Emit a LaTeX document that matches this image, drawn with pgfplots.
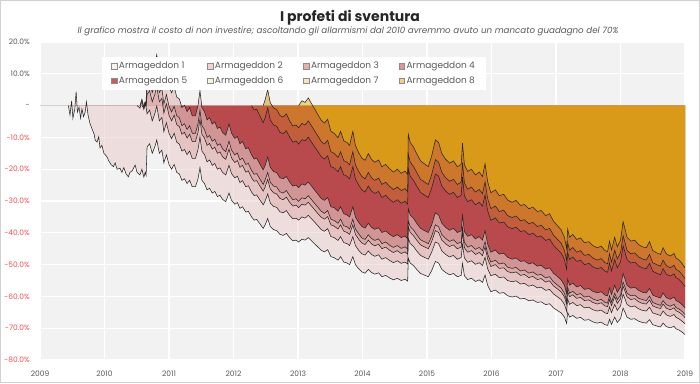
\documentclass[border=0pt]{standalone}
\usepackage{fontspec}
\setmainfont{Poppins}
\usepackage{pgfplots}
\usepackage{pgfplotstable}
\pgfplotsset{compat=1.18}
\definecolor{bggray}{HTML}{F2F2F2}
\definecolor{txtgray}{HTML}{595959}
\definecolor{negred}{HTML}{F05050}
\definecolor{ca}{RGB}{234,202,202}
\definecolor{cb}{RGB}{222,170,170}
\definecolor{cc}{RGB}{210,144,144}
\definecolor{cd}{RGB}{200,130,130}
\definecolor{ce}{RGB}{160,0,6}
\definecolor{cf}{RGB}{205,115,42}
\definecolor{cg}{RGB}{215,145,30}
\definecolor{ch}{RGB}{229,190,5}
\definecolor{cup}{RGB}{222,165,165}
\definecolor{la}{RGB}{247,242,242}
\definecolor{lb}{RGB}{240,212,212}
\definecolor{lc}{RGB}{228,175,175}
\definecolor{ld}{RGB}{220,150,150}
\definecolor{le}{RGB}{200,95,95}
\definecolor{lf}{RGB}{248,242,222}
\definecolor{lg}{RGB}{245,228,190}
\definecolor{lh}{RGB}{244,205,140}

\pgfplotstableread{
t s1 s2 s3 s4 s5 s6 s7 s8
2009.44 0 nan nan nan nan nan nan nan
2009.465 -3.0 nan nan nan nan nan nan nan
2009.49 1.5 nan nan nan nan nan nan nan
2009.51 -4.0 nan nan nan nan nan nan nan
2009.54 -1.0 nan nan nan nan nan nan nan
2009.56 4.4 nan nan nan nan nan nan nan
2009.58 -2.0 nan nan nan nan nan nan nan
2009.605 -0.5 nan nan nan nan nan nan nan
2009.63 -4.0 nan nan nan nan nan nan nan
2009.65 -1.0 nan nan nan nan nan nan nan
2009.675 -3.5 nan nan nan nan nan nan nan
2009.70 -2.0 nan nan nan nan nan nan nan
2009.72 1.2 nan nan nan nan nan nan nan
2009.745 -3.0 nan nan nan nan nan nan nan
2009.775 -5.6 nan nan nan nan nan nan nan
2009.81 -7.5 nan nan nan nan nan nan nan
2009.84 -9.0 nan nan nan nan nan nan nan
2009.855 -10.8 nan nan nan nan nan nan nan
2009.885 -11.5 nan nan nan nan nan nan nan
2009.91 -9.8 nan nan nan nan nan nan nan
2009.93 -13.3 nan nan nan nan nan nan nan
2009.96 -12.5 nan nan nan nan nan nan nan
2009.99 -15.0 nan nan nan nan nan nan nan
2010.035 -16.0 nan nan nan nan nan nan nan
2010.07 -17.5 nan nan nan nan nan nan nan
2010.10 -18.5 nan nan nan nan nan nan nan
2010.14 -19.2 nan nan nan nan nan nan nan
2010.165 -18.0 nan nan nan nan nan nan nan
2010.195 -20.0 nan nan nan nan nan nan nan
2010.24 -19.7 nan nan nan nan nan nan nan
2010.27 -21.0 nan nan nan nan nan nan nan
2010.30 -19.5 nan nan nan nan nan nan nan
2010.335 -21.5 nan nan nan nan nan nan nan
2010.37 -22.4 nan nan nan nan nan nan nan
2010.395 -21.0 nan nan nan nan nan nan nan
2010.43 -20.5 nan nan nan nan nan nan nan
2010.475 -18.7 nan nan nan nan nan nan nan
2010.505 -21.0 0 nan nan nan nan nan nan
2010.55 -21.8 -0.8 0 nan nan nan nan nan
2010.58 -20.0 1.5 2.0 0 nan nan nan nan
2010.61 -22.5 -1.2 -0.5 -0.8 0 nan nan nan
2010.63 -21.0 0.5 1.2 0.8 1.0 nan nan nan
2010.645 -22.0 -0.5 0.3 0.0 0.5 nan nan nan
2010.66 -13.0 -2.6 3.5 6.6 13.1 nan nan nan
2010.70 -12.0 -1.4 4.7 7.8 14.4 nan nan nan
2010.74 -15.0 -4.8 1.2 4.1 10.5 nan nan nan
2010.78 -13.0 -2.6 3.5 6.6 13.1 nan nan nan
2010.81 -10.8 -0.1 6.1 9.3 16.0 nan nan nan
2010.85 -15.0 -4.8 1.2 4.1 10.5 nan nan nan
2010.89 -14.0 -3.7 2.3 5.4 11.8 nan nan nan
2010.92 -18.0 -8.2 -2.4 0.5 6.6 nan nan nan
2010.96 -15.5 -5.4 0.6 3.5 9.9 nan nan nan
2011.00 -18.5 -8.7 -3.0 -0.2 6.0 nan nan nan
2011.04 -20.0 -10.4 -4.8 -2.0 4.0 nan nan nan
2011.08 -18.5 -8.7 -3.0 -0.2 6.0 nan nan nan
2011.12 -21.0 -11.5 -6.0 -3.2 2.7 nan nan nan
2011.16 -21.5 -12.1 -6.6 -3.8 2.1 nan nan nan
2011.20 -23.5 -14.3 -9.0 -6.3 -0.6 nan nan nan
2011.24 -23.0 -13.8 -8.4 -5.7 0.1 nan nan nan
2011.28 -24.5 -15.4 -10.2 -7.5 -1.9 nan nan nan
2011.32 -23.5 -14.3 -9.0 -6.3 -0.6 nan nan nan
2011.36 -25.5 -16.6 -11.3 -8.7 -3.2 nan nan nan
2011.41 -25.5 -16.6 -11.3 -8.7 -3.2 nan nan nan
2011.45 -23.0 -13.8 -8.4 -5.7 0.1 nan nan nan
2011.48 -19.5 -9.8 -4.2 -1.4 4.7 nan nan nan
2011.51 -23.5 -14.3 -9.0 -6.3 -0.6 nan nan nan
2011.55 -24.5 -15.4 -10.2 -7.5 -1.9 nan nan nan
2011.59 -26.5 -17.7 -12.5 -10.0 -4.5 nan nan nan
2011.63 -26.0 -17.1 -11.9 -9.4 -3.8 nan nan nan
2011.67 -27.5 -18.8 -13.7 -11.2 -5.8 nan nan nan
2011.71 -27.0 -18.2 -13.1 -10.6 -5.1 nan nan nan
2011.75 -28.6 -20.0 -15.0 -12.5 -7.2 nan nan nan
2011.79 -28.2 -19.6 -14.6 -12.0 -6.7 nan nan nan
2011.83 -29.5 -21.0 -16.1 -13.6 -8.4 nan nan nan
2011.88 -30.2 -21.8 -16.9 -14.5 -9.3 nan nan nan
2011.93 -27.5 -18.8 -13.7 -11.2 -5.8 nan nan nan
2011.97 -29.8 -21.4 -16.5 -14.0 -8.7 nan nan nan
2012.02 -31.0 -22.7 -17.9 -15.5 -10.3 nan nan nan
2012.06 -30.5 -22.2 -17.3 -14.9 -9.7 nan nan nan
2012.10 -32.3 -24.2 -19.4 -17.1 -12.0 nan nan nan
2012.14 -31.8 -23.6 -18.8 -16.5 -11.3 nan nan nan
2012.19 -33.5 -25.5 -20.9 -18.5 -13.6 nan nan nan
2012.23 -33.2 -25.2 -20.5 -18.2 -13.2 nan nan nan
2012.28 -35.0 -27.2 -22.7 -20.4 -15.5 0.0 nan nan
2012.32 -36.0 -28.3 -23.8 -21.6 -16.8 -1.4 nan nan
2012.36 -35.8 -28.1 -23.6 -21.4 -16.5 -1.1 nan nan
2012.41 -37.2 -29.7 -25.3 -23.1 -18.4 -3.3 nan nan
2012.46 -38.6 -31.2 -26.9 -24.8 -20.2 -5.4 0.0 nan
2012.49 -37.5 -30.0 -25.6 -23.4 -18.8 -3.8 1.8 nan
2012.53 -35.5 -27.8 -23.2 -21.0 -16.2 -0.7 5.0 nan
2012.57 -38.0 -30.6 -26.2 -24.1 -19.4 -4.5 0.9 nan
2012.62 -39.0 -31.7 -27.4 -25.3 -20.7 -6.1 -0.7 nan
2012.67 -39.3 -32.0 -27.8 -25.6 -21.1 -6.5 -1.2 nan
2012.72 -40.5 -33.4 -29.2 -27.1 -22.7 -8.4 -3.1 nan
2012.77 -40.8 -33.7 -29.6 -27.5 -23.0 -8.8 -3.6 nan
2012.82 -40.2 -33.0 -28.8 -26.7 -22.3 -7.9 -2.6 nan
2012.87 -41.5 -34.5 -30.4 -28.3 -24.0 -9.9 -4.8 nan
2012.92 -42.5 -35.6 -31.6 -29.6 -25.3 -11.5 -6.4 nan
2012.97 -42.3 -35.4 -31.3 -29.3 -25.0 -11.1 -6.1 nan
2013.01 -42.9 -36.0 -32.1 -30.1 -25.8 -12.1 -7.0 0.0
2013.06 -42.0 -35.0 -31.0 -29.0 -24.6 -10.7 -5.6 1.5
2013.11 -42.3 -35.4 -31.3 -29.3 -25.0 -11.1 -6.1 1.0
2013.16 -41.5 -34.5 -30.4 -28.3 -24.0 -9.9 -4.8 2.4
2013.21 -42.5 -35.6 -31.6 -29.6 -25.3 -11.5 -6.4 0.6
2013.26 -43.5 -36.7 -32.8 -30.8 -26.6 -13.0 -8.0 -1.1
2013.31 -44.5 -37.8 -34.0 -32.0 -27.9 -14.5 -9.6 -2.9
2013.36 -45.5 -39.0 -35.1 -33.2 -29.2 -16.1 -11.3 -4.6
2013.41 -46.0 -39.5 -35.7 -33.9 -29.8 -16.8 -12.1 -5.5
2013.46 -45.3 -38.7 -34.9 -33.0 -28.9 -15.8 -10.9 -4.3
2013.51 -47.5 -41.2 -37.5 -35.7 -31.8 -19.2 -14.5 -8.1
2013.56 -47.8 -41.5 -37.9 -36.1 -32.1 -19.6 -15.0 -8.7
2013.62 -48.6 -42.4 -38.8 -37.0 -33.2 -20.8 -16.3 -10.1
2013.66 -47.5 -41.2 -37.5 -35.7 -31.8 -19.2 -14.5 -8.1
2013.71 -49.2 -43.1 -39.5 -37.8 -34.0 -21.8 -17.3 -11.1
2013.76 -49.5 -43.4 -39.9 -38.1 -34.4 -22.2 -17.8 -11.6
2013.80 -50.0 -44.0 -40.5 -38.8 -35.0 -23.0 -18.6 -12.5
2013.85 -47.5 -41.2 -37.5 -35.7 -31.8 -19.2 -14.5 -8.1
2013.89 -50.0 -44.0 -40.5 -38.8 -35.0 -23.0 -18.6 -12.5
2013.94 -51.3 -45.5 -42.0 -40.3 -36.7 -25.0 -20.7 -14.8
2013.99 -52.3 -46.6 -43.2 -41.6 -38.0 -26.5 -22.3 -16.5
2014.04 -52.7 -47.0 -43.7 -42.1 -38.5 -27.2 -23.0 -17.2
2014.09 -51.5 -45.7 -42.3 -40.6 -37.0 -25.3 -21.0 -15.1
2014.14 -52.5 -46.8 -43.5 -41.8 -38.3 -26.9 -22.7 -16.9
2014.19 -53.0 -47.4 -44.1 -42.4 -38.9 -27.6 -23.5 -17.8
2014.25 -52.6 -46.9 -43.6 -41.9 -38.4 -27.0 -22.8 -17.1
2014.30 -53.8 -48.3 -45.0 -43.4 -39.9 -28.9 -24.8 -19.2
2014.36 -53.4 -47.8 -44.5 -42.9 -39.4 -28.2 -24.1 -18.5
2014.42 -54.2 -48.7 -45.5 -43.9 -40.5 -29.5 -25.4 -19.9
2014.48 -54.8 -49.4 -46.2 -44.6 -41.2 -30.4 -26.4 -20.9
2014.54 -54.3 -48.8 -45.6 -44.0 -40.6 -29.6 -25.6 -20.0
2014.60 -55.0 -49.6 -46.5 -44.9 -41.5 -30.7 -26.7 -21.3
2014.66 -54.6 -49.2 -46.0 -44.4 -41.0 -30.1 -26.1 -20.6
2014.70 -55.2 -49.8 -46.7 -45.1 -41.8 -31.0 -27.1 -21.6
2014.71 -48.0 -41.8 -38.1 -36.3 -32.4 -19.9 -15.3 -9.0
2014.74 -49.5 -43.4 -39.9 -38.1 -34.4 -22.2 -17.8 -11.6
2014.79 -50.3 -44.3 -40.9 -39.1 -35.4 -23.5 -19.1 -13.0
2014.84 -51.5 -45.7 -42.3 -40.6 -37.0 -25.3 -21.0 -15.1
2014.90 -52.8 -47.1 -43.8 -42.2 -38.6 -27.3 -23.2 -17.4
2014.96 -53.3 -47.7 -44.4 -42.8 -39.3 -28.1 -24.0 -18.3
2015.02 -53.8 -48.3 -45.0 -43.4 -39.9 -28.9 -24.8 -19.2
2015.07 -52.0 -46.2 -42.9 -41.2 -37.6 -26.1 -21.9 -16.0
2015.13 -49.0 -42.9 -39.3 -37.5 -33.7 -21.5 -17.0 -10.8
2015.18 -49.5 -43.4 -39.9 -38.1 -34.4 -22.2 -17.8 -11.6
2015.23 -51.5 -45.7 -42.3 -40.6 -37.0 -25.3 -21.0 -15.1
2015.29 -52.5 -46.8 -43.5 -41.8 -38.3 -26.9 -22.7 -16.9
2015.35 -53.2 -47.6 -44.3 -42.7 -39.2 -27.9 -23.8 -18.1
2015.41 -52.8 -47.1 -43.8 -42.2 -38.6 -27.3 -23.2 -17.4
2015.47 -53.8 -48.3 -45.0 -43.4 -39.9 -28.9 -24.8 -19.2
2015.53 -53.4 -47.8 -44.5 -42.9 -39.4 -28.2 -24.1 -18.5
2015.55 -49.6 -43.6 -40.0 -38.3 -34.5 -22.4 -17.9 -11.8
2015.58 -53.5 -47.9 -44.7 -43.0 -39.6 -28.4 -24.3 -18.6
2015.63 -54.7 -49.3 -46.1 -44.5 -41.1 -30.2 -26.3 -20.7
2015.69 -54.3 -48.8 -45.6 -44.0 -40.6 -29.6 -25.6 -20.0
2015.75 -55.3 -49.9 -46.8 -45.2 -41.9 -31.2 -27.2 -21.8
2015.81 -54.8 -49.4 -46.2 -44.6 -41.2 -30.4 -26.4 -20.9
2015.86 -55.6 -50.3 -47.2 -45.6 -42.3 -31.6 -27.7 -22.3
2015.90 -53.3 -47.7 -44.4 -42.8 -39.3 -28.1 -24.0 -18.3
2015.94 -56.5 -51.3 -48.2 -46.7 -43.5 -33.0 -29.2 -23.9
2015.99 -58.5 -53.5 -50.6 -49.2 -46.1 -36.1 -32.4 -27.4
2016.06 -58.0 -53.0 -50.0 -48.6 -45.4 -35.3 -31.6 -26.5
2016.12 -59.0 -54.1 -51.2 -49.8 -46.7 -36.9 -33.3 -28.3
2016.19 -58.8 -53.9 -51.0 -49.5 -46.4 -36.6 -32.9 -27.9
2016.25 -59.8 -55.0 -52.2 -50.8 -47.7 -38.1 -34.6 -29.7
2016.32 -60.2 -55.4 -52.6 -51.2 -48.3 -38.7 -35.2 -30.4
2016.38 -59.9 -55.1 -52.3 -50.9 -47.9 -38.2 -34.7 -29.8
2016.45 -60.8 -56.1 -53.4 -52.0 -49.0 -39.6 -36.2 -31.4
2016.51 -60.6 -55.9 -53.1 -51.7 -48.8 -39.3 -35.9 -31.1
2016.58 -61.4 -56.8 -54.1 -52.7 -49.8 -40.6 -37.2 -32.5
2016.64 -61.1 -56.4 -53.7 -52.3 -49.4 -40.1 -36.7 -31.9
2016.71 -61.9 -57.3 -54.7 -53.3 -50.5 -41.3 -38.0 -33.3
2016.77 -61.7 -57.1 -54.4 -53.1 -50.2 -41.0 -37.6 -33.0
2016.84 -62.6 -58.1 -55.5 -54.2 -51.4 -42.4 -39.1 -34.6
2016.90 -62.3 -57.8 -55.1 -53.8 -51.0 -41.9 -38.6 -34.0
2016.96 -63.6 -59.2 -56.7 -55.4 -52.7 -43.9 -40.7 -36.3
2017.02 -64.4 -60.1 -57.6 -56.4 -53.7 -45.2 -42.0 -37.7
2017.08 -65.2 -61.0 -58.6 -57.4 -54.8 -46.4 -43.3 -39.1
2017.13 -66.5 -62.5 -60.1 -59.0 -56.5 -48.4 -45.5 -41.4
2017.165 -68.5 -64.7 -62.5 -61.4 -59.1 -51.5 -48.7 -44.9
2017.18 -65.0 -60.8 -58.4 -57.1 -54.5 -46.1 -43.0 -38.8
2017.21 -66.5 -62.5 -60.1 -59.0 -56.5 -48.4 -45.5 -41.4
2017.26 -66.0 -61.9 -59.5 -58.4 -55.8 -47.6 -44.6 -40.5
2017.32 -66.9 -62.9 -60.6 -59.5 -57.0 -49.0 -46.1 -42.1
2017.38 -66.6 -62.6 -60.3 -59.1 -56.6 -48.6 -45.6 -41.6
2017.44 -67.5 -63.6 -61.3 -60.2 -57.8 -50.0 -47.1 -43.1
2017.51 -67.3 -63.4 -61.1 -59.9 -57.5 -49.6 -46.8 -42.8
2017.57 -68.0 -64.2 -61.9 -60.8 -58.4 -50.7 -47.9 -44.0
2017.64 -68.4 -64.6 -62.4 -61.3 -58.9 -51.3 -48.6 -44.7
2017.70 -68.1 -64.3 -62.0 -60.9 -58.5 -50.9 -48.1 -44.2
2017.76 -68.9 -65.2 -63.0 -61.9 -59.6 -52.1 -49.4 -45.6
2017.80 -69.1 -65.4 -63.2 -62.1 -59.8 -52.4 -49.7 -45.9
2017.83 -67.2 -63.3 -61.0 -59.8 -57.4 -49.5 -46.6 -42.6
2017.86 -68.8 -65.1 -62.9 -61.8 -59.4 -52.0 -49.2 -45.4
2017.91 -66.5 -62.5 -60.1 -59.0 -56.5 -48.4 -45.5 -41.4
2017.95 -68.2 -64.4 -62.2 -61.0 -58.7 -51.0 -48.2 -44.4
2018.00 -67.0 -63.0 -60.7 -59.6 -57.1 -49.2 -46.3 -42.3
2018.04 -63.7 -59.3 -56.8 -55.5 -52.8 -44.1 -40.9 -36.5
2018.07 -65.0 -60.8 -58.4 -57.1 -54.5 -46.1 -43.0 -38.8
2018.10 -66.5 -62.5 -60.1 -59.0 -56.5 -48.4 -45.5 -41.4
2018.16 -67.2 -63.3 -61.0 -59.8 -57.4 -49.5 -46.6 -42.6
2018.22 -67.0 -63.0 -60.7 -59.6 -57.1 -49.2 -46.3 -42.3
2018.28 -67.8 -63.9 -61.7 -60.6 -58.1 -50.4 -47.6 -43.7
2018.34 -68.2 -64.4 -62.2 -61.0 -58.7 -51.0 -48.2 -44.4
2018.40 -68.4 -64.6 -62.4 -61.3 -58.9 -51.3 -48.6 -44.7
2018.45 -67.3 -63.4 -61.1 -59.9 -57.5 -49.6 -46.8 -42.8
2018.50 -68.9 -65.2 -63.0 -61.9 -59.6 -52.1 -49.4 -45.6
2018.56 -69.3 -65.6 -63.5 -62.4 -60.1 -52.7 -50.0 -46.3
2018.62 -69.6 -66.0 -63.8 -62.8 -60.5 -53.2 -50.5 -46.8
2018.66 -68.4 -64.6 -62.4 -61.3 -58.9 -51.3 -48.6 -44.7
2018.71 -69.5 -65.8 -63.7 -62.6 -60.4 -53.0 -50.3 -46.6
2018.77 -69.9 -66.3 -64.2 -63.1 -60.9 -53.6 -51.0 -47.3
2018.83 -69.4 -65.7 -63.6 -62.5 -60.2 -52.9 -50.2 -46.5
2018.86 -70.2 -66.6 -64.5 -63.5 -61.3 -54.1 -51.5 -47.9
2018.91 -70.6 -67.1 -65.0 -64.0 -61.8 -54.7 -52.1 -48.6
2018.96 -71.3 -67.9 -65.8 -64.8 -62.7 -55.8 -53.3 -49.8
2019.00 -72.0 -68.6 -66.7 -65.7 -63.6 -56.9 -54.4 -51.0
}\data

\begin{document}
\begin{tikzpicture}[x=1pt,y=1pt]
\path[use as bounding box] (0pt,0pt) rectangle (700pt,383pt);
\fill[white] (0pt,0pt) rectangle (700pt,383pt);
\draw[black!18, line width=0.6pt] (0.3pt,0.3pt) rectangle (699.7pt,382.7pt);
\node[font=\fontsize{14}{16}\selectfont\bfseries, text=black!85] at (350pt,365pt) {I profeti di sventura};
\node[font=\fontsize{8.7}{10}\selectfont\itshape, text=txtgray] at (348pt,352pt) {Il grafico mostra il costo di non investire; ascoltando gli allarmismi dal 2010 avremmo avuto un mancato guadagno del 70\%};
\begin{axis}[
  at={(40pt,23pt)}, anchor=south west,
  scale only axis, width=645pt, height=318pt,
  xmin=2009, xmax=2019, ymin=-80, ymax=20,
  axis background/.style={fill=bggray},
  axis line style={draw=none},
  tick style={draw=none},
  grid=major,
  major grid style={white, line width=1.3pt},
  xtick={2009,2010,2011,2012,2013,2014,2015,2016,2017,2018,2019},
  xticklabels={2009,2010,2011,2012,2013,2014,2015,2016,2017,2018,2019},
  ytick={-80,-70,-60,-50,-40,-30,-20,-10,0,10,20},
  yticklabels={\textcolor{negred}{-80.0\%},\textcolor{negred}{-70.0\%},\textcolor{negred}{-60.0\%},\textcolor{negred}{-50.0\%},\textcolor{negred}{-40.0\%},\textcolor{negred}{-30.0\%},\textcolor{negred}{-20.0\%},\textcolor{negred}{-10.0\%},-,10.0\%,20.0\%},
  xticklabel style={font=\fontsize{7.5}{9}\selectfont, text=txtgray, inner sep=0pt, yshift=-11pt},
  yticklabel style={font=\fontsize{7.5}{9}\selectfont, text=txtgray, inner sep=0pt, anchor=east, xshift=-10pt},
  legend columns=4,
  legend cell align=left,
  legend style={at={(0.0961,0.953)}, anchor=north west, draw=none, fill=white,
    font=\fontsize{9}{10}\selectfont, text=txtgray, inner xsep=9pt, inner ysep=3pt,
    /tikz/row sep=2.5pt,
    /tikz/every even column/.append style={column sep=18pt}},
  legend image code/.code={\draw[#1] (0pt,-2.7pt) rectangle (5.4pt,2.7pt);},
]
\draw[black!18, line width=0.8pt] (axis cs:2009,0) -- (axis cs:2019,0);
\addplot[draw=none, fill=ca, fill opacity=0.5, forget plot] table[x=t,y=s1]{\data} \closedcycle;
\addplot[draw=none, fill=cb, fill opacity=0.5, forget plot, y filter/.expression={min(y,0)}] table[x=t,y=s2]{\data} \closedcycle;
\addplot[draw=none, fill=cc, fill opacity=0.5, forget plot, y filter/.expression={min(y,0)}] table[x=t,y=s3]{\data} \closedcycle;
\addplot[draw=none, fill=cd, fill opacity=0.5, forget plot, y filter/.expression={min(y,0)}] table[x=t,y=s4]{\data} \closedcycle;
\addplot[draw=none, fill=ce, fill opacity=0.5, forget plot, y filter/.expression={min(y,0)}] table[x=t,y=s5]{\data} \closedcycle;
\addplot[draw=none, fill=cup, fill opacity=0.45, forget plot, y filter/.expression={max(y,0)}] table[x=t,y=s2]{\data} \closedcycle;
\addplot[draw=none, fill=cup, fill opacity=0.45, forget plot, y filter/.expression={max(y,0)}] table[x=t,y=s3]{\data} \closedcycle;
\addplot[draw=none, fill=cup, fill opacity=0.45, forget plot, y filter/.expression={max(y,0)}] table[x=t,y=s4]{\data} \closedcycle;
\addplot[draw=none, fill=cup, fill opacity=0.45, forget plot, y filter/.expression={max(y,0)}] table[x=t,y=s5]{\data} \closedcycle;
\addplot[draw=none, fill=cf, fill opacity=0.5, forget plot] table[x=t,y=s6]{\data} \closedcycle;
\addplot[draw=none, fill=cg, fill opacity=0.5, forget plot] table[x=t,y=s7]{\data} \closedcycle;
\addplot[draw=none, fill=ch, fill opacity=0.5, forget plot] table[x=t,y=s8]{\data} \closedcycle;
\addplot[black!85, line width=0.55pt, forget plot] table[x=t,y=s1]{\data};
\addplot[black!85, line width=0.55pt, forget plot] table[x=t,y=s2]{\data};
\addplot[black!85, line width=0.55pt, forget plot] table[x=t,y=s3]{\data};
\addplot[black!85, line width=0.55pt, forget plot] table[x=t,y=s4]{\data};
\addplot[black!85, line width=0.55pt, forget plot] table[x=t,y=s5]{\data};
\addplot[black!85, line width=0.55pt, forget plot] table[x=t,y=s6]{\data};
\addplot[black!85, line width=0.55pt, forget plot] table[x=t,y=s7]{\data};
\addplot[black!85, line width=0.55pt, forget plot] table[x=t,y=s8]{\data};
\addlegendimage{fill=la, draw=black!45, line width=0.4pt}
\addlegendentry{Armageddon 1}
\addlegendimage{fill=lb, draw=black!45, line width=0.4pt}
\addlegendentry{Armageddon 2}
\addlegendimage{fill=lc, draw=black!45, line width=0.4pt}
\addlegendentry{Armageddon 3}
\addlegendimage{fill=ld, draw=black!45, line width=0.4pt}
\addlegendentry{Armageddon 4}
\addlegendimage{fill=le, draw=black!45, line width=0.4pt}
\addlegendentry{Armageddon 5}
\addlegendimage{fill=lf, draw=black!45, line width=0.4pt}
\addlegendentry{Armageddon 6}
\addlegendimage{fill=lg, draw=black!45, line width=0.4pt}
\addlegendentry{Armageddon 7}
\addlegendimage{fill=lh, draw=black!45, line width=0.4pt}
\addlegendentry{Armageddon 8}
\end{axis}
\end{tikzpicture}
\end{document}
